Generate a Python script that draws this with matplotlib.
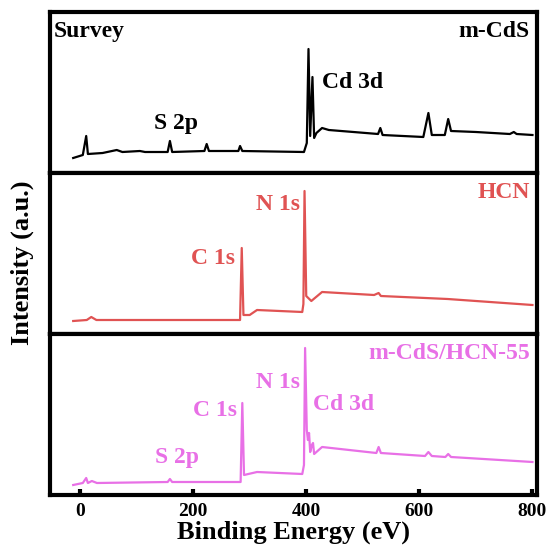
import matplotlib.pyplot as plt
import numpy as np

plt.rcParams['font.family'] = ['Liberation Serif', 'DejaVu Serif']
plt.rcParams['font.weight'] = 'bold'

# XPS survey spectra (binding energy in eV, intensity in a.u.)
e_cds = [-12, 5, 11, 14, 40, 65, 75, 106, 115, 155, 159, 163, 220, 224, 228,
         280, 283, 287, 396, 401, 404, 407, 411, 414, 418, 428, 440, 527, 531,
         535, 607, 616, 622, 645, 651, 656, 700, 760, 767, 772, 800]
i_cds = [15, 18, 37, 19, 20, 23, 21, 22, 21, 21, 32, 21, 22, 29, 22,
         22, 27, 22, 21, 30, 124, 37, 96, 35, 40, 45, 43, 39, 45,
         38, 36, 60, 38, 38, 54, 42, 41, 39, 41, 39, 38]

e_hcn = [-12, 12, 20, 29, 150, 283, 286, 289, 300, 313, 393, 395, 397, 400,
         409, 428, 520, 528, 532, 650, 800]
i_hcn = [13, 14, 17, 14, 14, 14, 86, 19, 19, 24, 22, 30, 143, 38,
         33, 42, 39, 41, 38, 35, 29]

e_mix = [-12, 5, 11, 14, 21, 30, 155, 159, 163, 284, 287, 290, 313, 393, 396,
         398, 401, 403, 405, 407, 410, 412, 414, 428, 524, 528, 532, 610, 616,
         622, 646, 651, 656, 800]
i_mix = [10, 12, 17, 12, 14, 12, 13, 16, 13, 13, 92, 20, 23, 21, 30,
         147, 65, 55, 62, 43, 50, 52, 41, 48, 42, 48, 42, 39, 43,
         39, 38, 41, 38, 33]

names = ['m-CdS', 'HCN', 'm-CdS/HCN-55']
colors = ['black', '#E05353', '#E870E6']
energies = [e_cds, e_hcn, e_mix]
intens = [i_cds, i_hcn, i_mix]

# peak labels: (text, energy, intensity, alignment)
peaks = [
    [('S 2p', 170, 50, 'center'), ('Cd 3d', 428, 90, 'left')],
    [('N 1s', 389, 129, 'right'), ('C 1s', 274, 76, 'right')],
    [('N 1s', 389, 112, 'right'), ('Cd 3d', 412, 90, 'left'),
     ('C 1s', 278, 85, 'right'), ('S 2p', 172, 38, 'center')],
]

fig = plt.figure(figsize=(5.58, 5.48), dpi=100)
left, right = 50 / 558, 537 / 558
top, bottom = 1 - 12 / 548, 1 - 495 / 548
h = (top - bottom) / 3

axes = []
for k in range(3):
    ax = fig.add_axes([left, top - (k + 1) * h, right - left, h])
    ax.plot(energies[k], intens[k], color=colors[k], lw=1.6)
    ax.set_xlim(-53, 808)
    ax.set_ylim(0, 161)
    ax.set_yticks([])
    for s in ax.spines.values():
        s.set_linewidth(3)
    ax.text(0.985, 0.88, names[k], transform=ax.transAxes, ha='right',
            va='center', fontsize=17, fontweight='bold', color=colors[k])
    for txt, x, y, ha in peaks[k]:
        ax.text(x, y, txt, ha=ha, va='center', fontsize=17,
                fontweight='bold', color=colors[k])
    if k < 2:
        ax.set_xticks([])
    axes.append(ax)

axes[0].text(0.008, 0.88, 'Survey', transform=axes[0].transAxes, ha='left',
             va='center', fontsize=17, fontweight='bold')

ax = axes[2]
ax.set_xticks([0, 200, 400, 600, 800])
ax.tick_params(axis='x', direction='in', length=4, width=3, labelsize=14,
               pad=6)
for t in ax.get_xticklabels():
    t.set_fontweight('bold')
ax.set_xlabel('Binding Energy (eV)', fontsize=19, fontweight='bold',
              labelpad=0)

fig.text(22 / 558, 1 - 263 / 548, 'Intensity (a.u.)', rotation=90,
         ha='center', va='center', fontsize=19, fontweight='bold')

fig.savefig('out.png', dpi=100)
